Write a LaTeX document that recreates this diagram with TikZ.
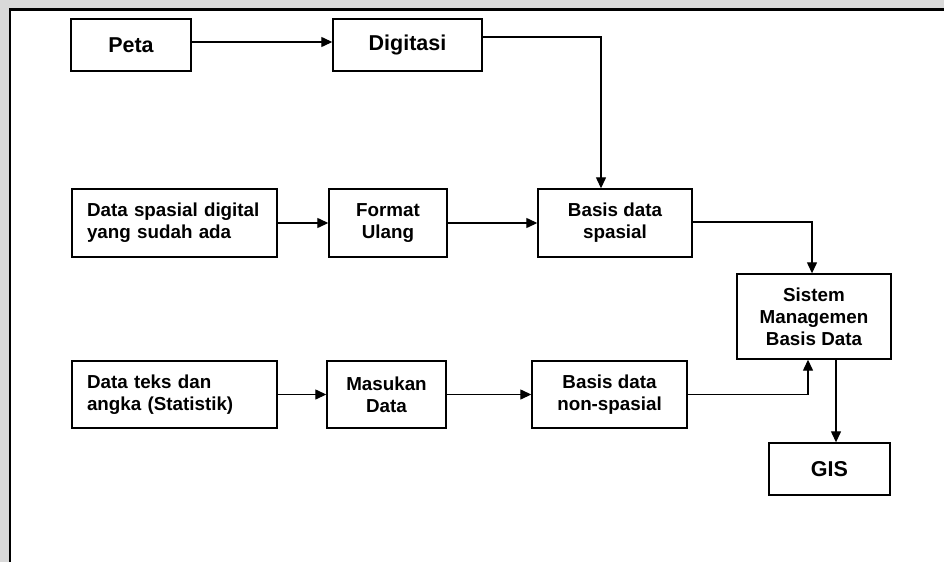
\documentclass[tikz,border=0pt]{standalone}
\usepackage{fontspec}
\setmainfont{Liberation Sans}
\usetikzlibrary{arrows.meta}
\definecolor{bggray}{HTML}{D9D9D9}
\tikzset{
  box/.style={draw=black, line width=1.4pt, fill=white, font=\bfseries\fontsize{18.8}{22}\selectfont, align=center, inner sep=0pt},
  bigbox/.style={box, font=\bfseries\fontsize{21.5}{24}\selectfont},
  lbox/.style={box, align=left, text width=175pt, inner xsep=15pt},
  arr/.style={line width=1.3pt, -{Triangle[length=11pt,width=10pt]}}
}
\begin{document}
\begin{tikzpicture}[x=1pt,y=-1pt]
\useasboundingbox (0,0) rectangle (944,562);
\fill[bggray] (0,0) rectangle (944,562);
\fill[white] (10,9.5) rectangle (944,562);
\draw[black, line width=2.6pt] (10,562) -- (10,9.5) -- (944,9.5);

\node[bigbox, minimum width=120pt, minimum height=52pt] (peta) at (131,45) {Peta};
\node[bigbox, minimum width=149pt, minimum height=52pt] (digi) at (407.5,45) {Digitasi};
\node[lbox, minimum width=205pt, minimum height=68pt] (dsp) at (174.5,223) {Data spasial digital\\yang sudah ada};
\node[box, minimum width=118pt, minimum height=68pt] (fmt) at (388,223) {Format\\Ulang};
\node[box, minimum width=154pt, minimum height=68pt] (bds) at (615,223) {Basis data\\spasial};
\node[box, minimum width=154pt, minimum height=85pt] (smbd) at (814,316.5) {Sistem\\Managemen\\Basis Data};
\node[lbox, minimum width=205pt, minimum height=67pt] (dtk) at (174.5,394.5) {Data teks dan\\angka (Statistik)};
\node[box, minimum width=119pt, minimum height=67pt] (msk) at (386.5,394.5) {Masukan\\Data};
\node[box, minimum width=155pt, minimum height=67pt] (bdn) at (609.5,394.5) {Basis data\\non-spasial};
\node[bigbox, minimum width=121pt, minimum height=52pt] (gis) at (829.5,469) {GIS};

\draw[arr] ([yshift=3pt]peta.east) -- ([yshift=3pt]digi.west);
\draw[arr] ([yshift=8pt]digi.east) -| ([xshift=-14pt]bds.north);
\draw[arr] (dsp.east) -- (fmt.west);
\draw[arr] (fmt.east) -- (bds.west);
\draw[arr] ([yshift=1pt]bds.east) -| ([xshift=-2pt]smbd.north);
\draw[arr] (dtk.east) -- (msk.west);
\draw[arr] (msk.east) -- (bdn.west);
\draw[arr] (bdn.east) -| ([xshift=-6pt]smbd.south);
\draw[arr] ([xshift=22pt]smbd.south) -- ([xshift=6.5pt]gis.north);
\end{tikzpicture}
\end{document}
